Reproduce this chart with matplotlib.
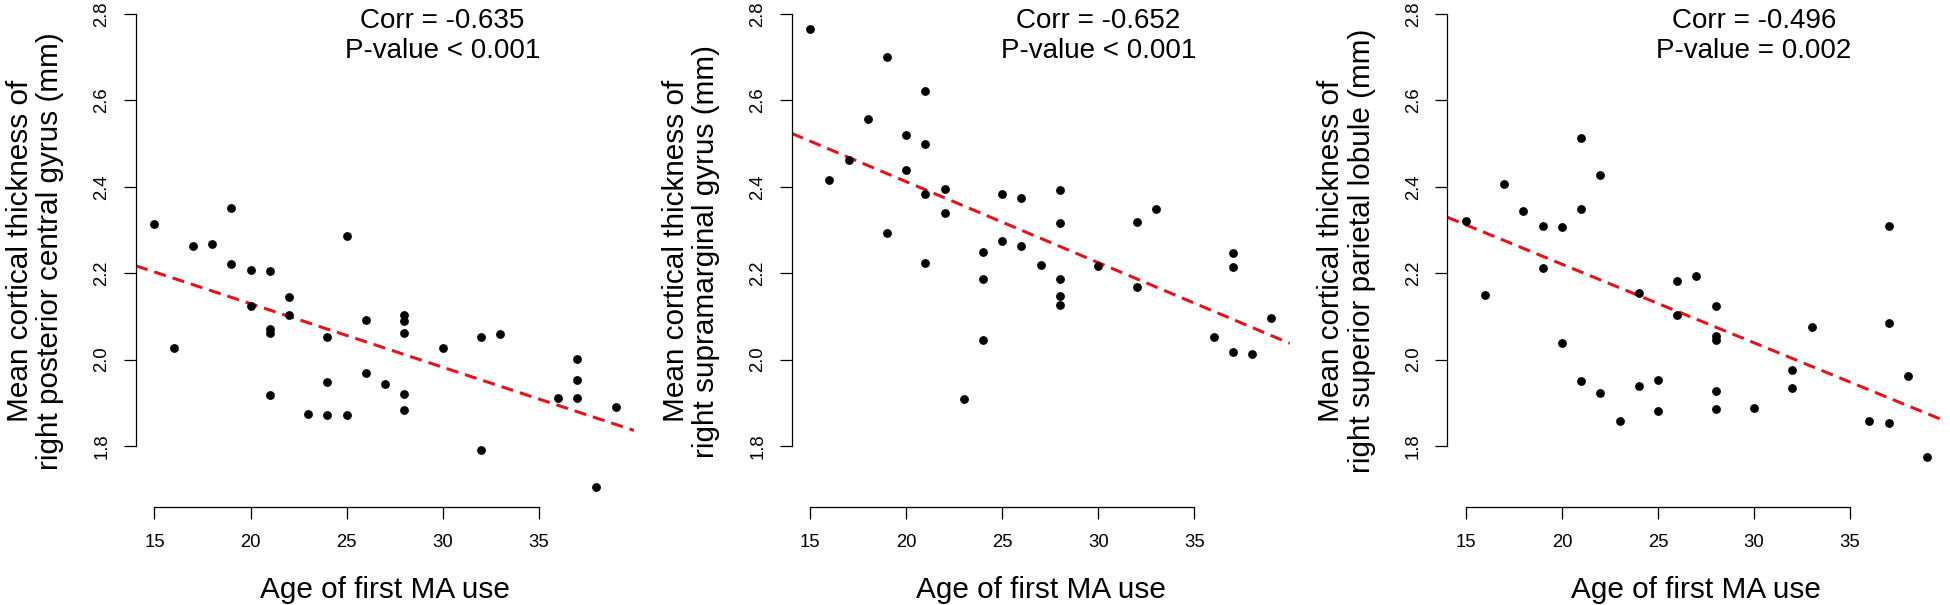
import numpy as np
import matplotlib
matplotlib.use('Agg')
import matplotlib.pyplot as plt

plt.rcParams['font.family'] = ['Liberation Sans', 'DejaVu Sans']

# Age of first MA use (panels 1 and 2 share the same subjects)
age = [15, 16, 17, 18, 19, 19, 20, 20, 21, 21, 21, 21, 22, 22, 23, 24, 24, 24, 25,
       25, 26, 26, 27, 28, 28, 28, 28, 28, 30, 32, 32, 33, 36, 37, 37, 37, 38, 39]

# right posterior central gyrus
thk_postcentral = [2.315, 2.027, 2.263, 2.267, 2.351, 2.222, 2.208, 2.125, 2.206, 2.072,
                   2.061, 1.918, 2.144, 2.103, 1.873, 2.052, 1.948, 1.871, 2.287, 1.871,
                   2.091, 1.968, 1.943, 2.104, 2.089, 2.061, 1.920, 1.884, 2.027, 2.052,
                   1.791, 2.060, 1.910, 2.002, 1.953, 1.910, 1.705, 1.890]

# right supramarginal gyrus
thk_supramarginal = [2.765, 2.416, 2.463, 2.556, 2.701, 2.292, 2.521, 2.438, 2.621, 2.499,
                     2.383, 2.223, 2.396, 2.340, 1.909, 2.248, 2.187, 2.046, 2.383, 2.274,
                     2.374, 2.264, 2.218, 2.393, 2.317, 2.186, 2.147, 2.126, 2.216, 2.319,
                     2.168, 2.348, 2.053, 2.246, 2.215, 2.017, 2.013, 2.097]

# right superior parietal lobule (some points overlap in the original)
age_spl = [15, 16, 17, 18, 19, 19, 20, 20, 21, 21, 21, 22, 22, 23, 24, 24, 25, 25,
           26, 26, 27, 28, 28, 28, 28, 28, 30, 32, 32, 33, 36, 37, 37, 37, 38, 39]
thk_spl = [2.321, 2.150, 2.407, 2.343, 2.309, 2.213, 2.307, 2.038, 2.512, 2.349,
           1.950, 2.427, 1.923, 1.858, 2.154, 1.939, 1.952, 1.882, 2.182, 2.103,
           2.194, 2.124, 2.054, 2.045, 1.928, 1.886, 1.887, 1.977, 1.935, 2.075,
           1.858, 2.310, 2.084, 1.853, 1.961, 1.775]

# fitted regression lines as drawn in the figure (intercept, slope)
fit_intercept = [2.4235, 2.787, 2.585]
fit_slope = [-0.0147, -0.01875, -0.0182]

ylabels = ['Mean cortical thickness of\nright posterior central gyrus (mm)',
           'Mean cortical thickness of\nright supramarginal gyrus (mm)',
           'Mean cortical thickness of\nright superior parietal lobule (mm)']
stats = ['Corr = -0.635\nP-value < 0.001',
         'Corr = -0.652\nP-value < 0.001',
         'Corr = -0.496\nP-value = 0.002']

xs = [age, age, age_spl]
ys = [thk_postcentral, thk_supramarginal, thk_spl]

W, H = 1950, 605
fig = plt.figure(figsize=(W / 100, H / 100), dpi=100)

for i in range(3):
    x0 = 136 + i * 655.7
    ax = fig.add_axes([x0 / W, (H - 506.7) / H, 498 / W, 511.7 / H])
    ax.scatter(xs[i], ys[i], s=40, color='black', zorder=3, linewidths=0)

    # regression line across the whole plot region, like abline()
    ax.axline((0, fit_intercept[i]), slope=fit_slope[i], color='#E3141C', lw=2.2,
              ls=(0, (4, 2.3)), zorder=2)

    ax.set_xlim(14.04, 39.96)
    ax.set_ylim(1.6595, 2.844)
    for s in ['top', 'right']:
        ax.spines[s].set_visible(False)
    ax.spines['left'].set_bounds(1.8, 2.8)
    ax.spines['bottom'].set_bounds(15, 35)
    for s in ['left', 'bottom']:
        ax.spines[s].set_linewidth(0.9)
    ax.set_xticks([15, 20, 25, 30, 35])
    ax.set_yticks([1.8, 2.0, 2.2, 2.4, 2.6, 2.8])
    ax.set_yticklabels(['1.8', '2.0', '2.2', '2.4', '2.6', '2.8'], rotation=90, va='center')
    ax.tick_params(axis='both', length=8.6, width=0.9, labelsize=13.3)
    ax.tick_params(axis='x', pad=11)
    ax.tick_params(axis='y', pad=9.7)

    ax.text(30, 2.75, stats[i], ha='center', va='center', fontsize=20, linespacing=1.2)

    fig.text((x0 + 249) / W, (H - 598.3) / H, 'Age of first MA use',
             ha='center', va='baseline', fontsize=21.4)
    fig.text((x0 - 101) / W, (H - 251) / H, ylabels[i], rotation=90,
             ha='center', va='center', fontsize=21.4, linespacing=1.1)

fig.savefig('out.png', dpi=100)
